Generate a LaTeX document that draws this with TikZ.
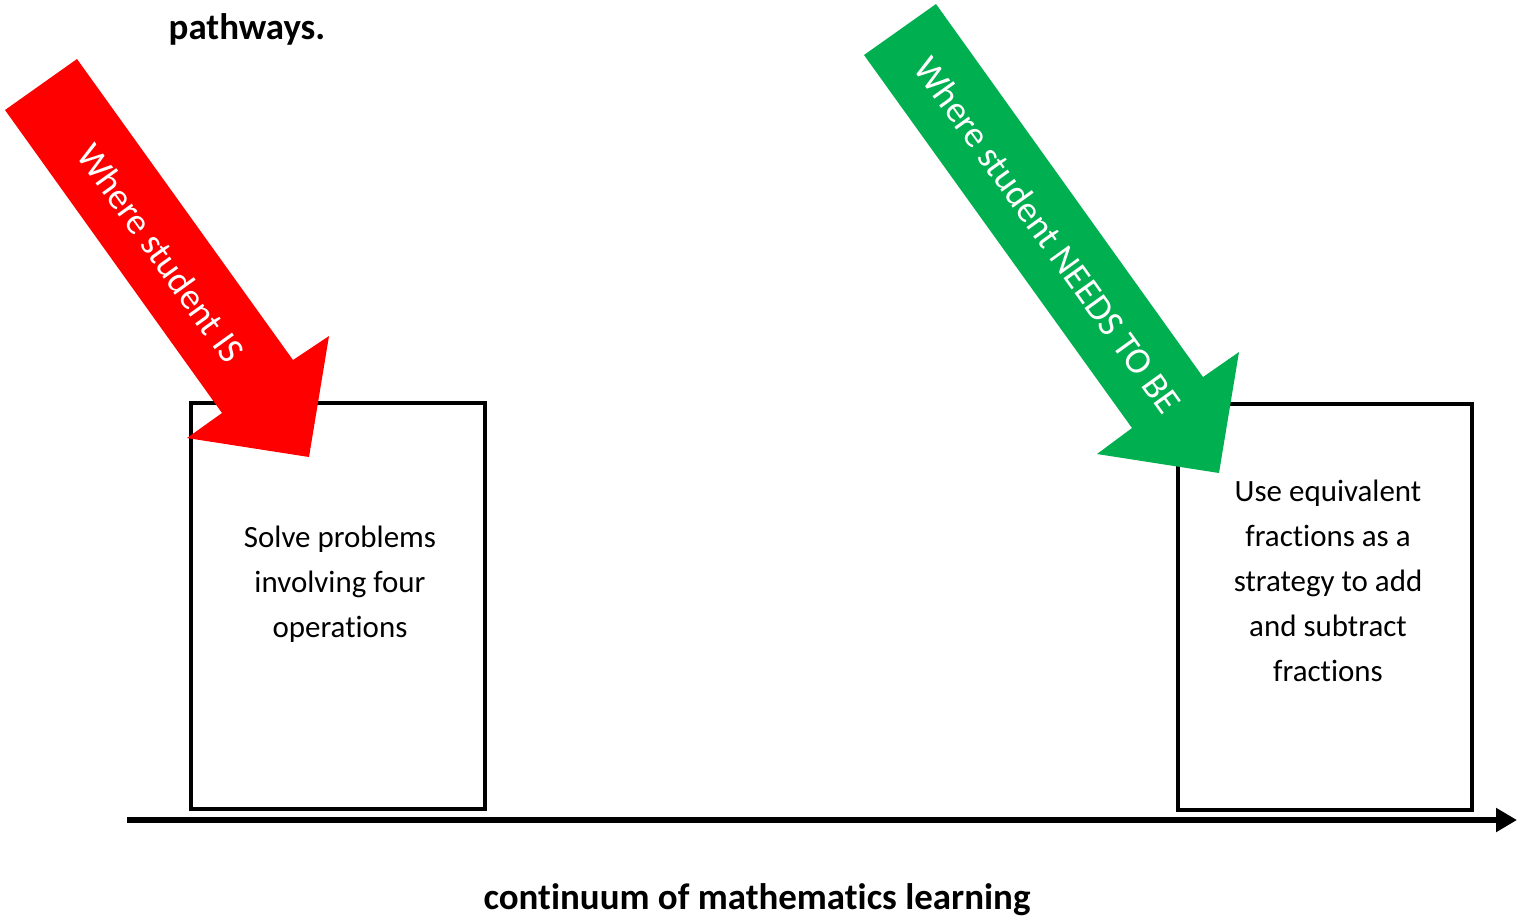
\documentclass[tikz,border=0pt]{standalone}
\usepackage{fontspec}
\setmainfont{Carlito}[Ligatures=NoCommon]
\definecolor{isred}{RGB}{255, 0, 0}
\definecolor{begreen}{RGB}{0, 176, 80}
\usetikzlibrary{arrows.meta, positioning}

\tikzset{
  stagebox/.style={draw=black, line width=1.15pt, minimum width=2.93cm, minimum height=4.06cm, inner sep=0pt},
  stagetext/.style={align=center, font=\fontsize{8.8pt}{12.8pt}\selectfont},
  arrowtext/.style={text=white, font=\fontsize{10.5pt}{12pt}\selectfont, rotate=-54.3},
  headline/.style={font=\fontsize{10.5pt}{12pt}\selectfont\bfseries}
}

\begin{document}
\begin{tikzpicture}[x=0.01cm, y=-0.01cm]
    \useasboundingbox (0,0) rectangle (1518,917);
    % title fragment
    \node[headline, anchor=west, inner sep=0pt] (title) at (168,29) {pathways.};
    % the two stages
    \node[stagebox] (now) at (338,606) {};
    \node[stagebox] (goal) at (1325,607) {};
    \node[stagetext] (nowtxt) at ([xshift=0.02cm, yshift=0.22cm]now.center) {Solve problems\\involving four\\operations};
    \node[stagetext] (goaltxt) at ([xshift=0.03cm, yshift=0.26cm]goal.center) {Use equivalent\\fractions as a\\strategy to add\\and subtract\\fractions};
    % continuum axis
    \coordinate (axstart) at (127,820);
    \coordinate (axend) at (1517,820);
    \draw[line width=1.45pt, -{Triangle[length=0.21cm, width=0.23cm]}] (axstart) -- (axend);
    \node[headline] (axlabel) at (757,900) {continuum of mathematics learning};
    % block arrows
    \fill[isred] (5,110) -- (77,59) -- (293,360) -- (329,336) -- (309,457) -- (187,438) -- (222,413) -- cycle;
    \node[arrowtext] (istxt) at (161,253) {Where student IS};
    \fill[begreen] (864,55) -- (936,4) -- (1203,377) -- (1239,352) -- (1219,473) -- (1097,454) -- (1132,428) -- cycle;
    \node[arrowtext] (betxt) at (1048,235) {Where student NEEDS TO BE};
  \end{tikzpicture}
\end{document}
